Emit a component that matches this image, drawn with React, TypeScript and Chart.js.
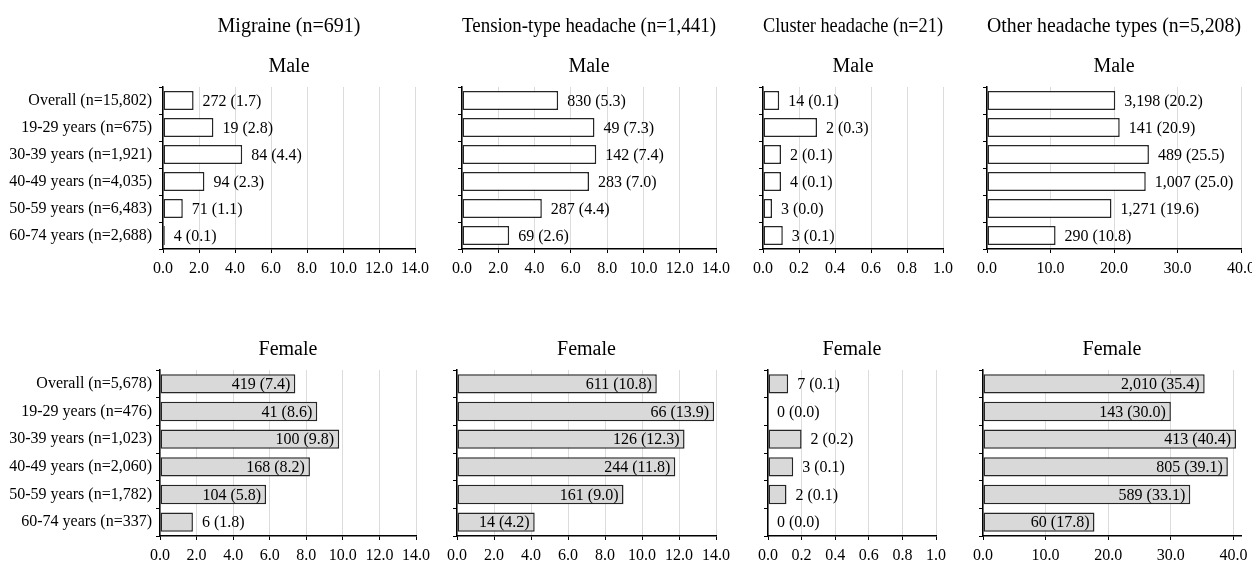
import React, { useEffect, useRef } from 'react';
import { Chart, registerables } from 'chart.js';

Chart.register(...registerables);

const FONT = "'Liberation Serif', 'Times New Roman', Times, serif";

// ---------- data ----------
const maleCategories = [
  'Overall (n=15,802)',
  '19-29 years (n=675)',
  '30-39 years (n=1,921)',
  '40-49 years (n=4,035)',
  '50-59 years (n=6,483)',
  '60-74 years (n=2,688)',
];
const femaleCategories = [
  'Overall (n=5,678)',
  '19-29 years (n=476)',
  '30-39 years (n=1,023)',
  '40-49 years (n=2,060)',
  '50-59 years (n=1,782)',
  '60-74 years (n=337)',
];

const headacheTitles = [
  'Migraine (n=691)',
  'Tension-type headache (n=1,441)',
  'Cluster headache (n=21)',
  'Other headache types (n=5,208)',
];

// Male
const migraineMaleCounts = [272, 19, 84, 94, 71, 4];
const migraineMalePct = [1.7, 2.8, 4.4, 2.3, 1.1, 0.1];
const tensionMaleCounts = [830, 49, 142, 283, 287, 69];
const tensionMalePct = [5.3, 7.3, 7.4, 7.0, 4.4, 2.6];
const clusterMaleCounts = [14, 2, 2, 4, 3, 3];
const clusterMalePct = [0.1, 0.3, 0.1, 0.1, 0.0, 0.1];
const clusterMaleBars = [0.09, 0.3, 0.1, 0.1, 0.05, 0.11];
const otherMaleCounts = [3198, 141, 489, 1007, 1271, 290];
const otherMalePct = [20.2, 20.9, 25.5, 25.0, 19.6, 10.8];

// Female
const migraineFemaleCounts = [419, 41, 100, 168, 104, 6];
const migraineFemalePct = [7.4, 8.6, 9.8, 8.2, 5.8, 1.8];
const tensionFemaleCounts = [611, 66, 126, 244, 161, 14];
const tensionFemalePct = [10.8, 13.9, 12.3, 11.8, 9.0, 4.2];
const clusterFemaleCounts = [7, 0, 2, 3, 2, 0];
const clusterFemalePct = [0.1, 0.0, 0.2, 0.1, 0.1, 0.0];
const clusterFemaleBars = [0.12, 0, 0.2, 0.15, 0.11, 0];
const otherFemaleCounts = [2010, 143, 413, 805, 589, 60];
const otherFemalePct = [35.4, 30.0, 40.4, 39.1, 33.1, 17.8];

// axis ranges
const axisMax = [14, 14, 1.0, 40];
const axisMaxFemale = [14, 14, 1.0, 41.2];
const axisStep = [2, 2, 0.2, 10];

// ---------- layout (styles) ----------
const topAxisX = [163, 462, 763, 987];
const topRight = [415, 716, 943, 1241];
const botAxisX = [160, 457, 768, 983];
const botRight = [416, 716, 936, 1241];
const PAD_R = 26;

function fmtCount(n: number): string {
  return String(n).replace(/\B(?=(\d{3})+(?!\d))/g, ',');
}
function makeLabels(counts: number[], pct: number[]): string[] {
  return counts.map((c, i) => `${fmtCount(c)} (${pct[i].toFixed(1)})`);
}

const barLabelPlugin = {
  id: 'barLabels',
  afterDatasetsDraw(chart: any, _args: any, opts: any) {
    const labels: string[] = opts.labels || [];
    const inside: boolean = !!opts.inside;
    const meta = chart.getDatasetMeta(0);
    const ctx = chart.ctx as CanvasRenderingContext2D;
    ctx.save();
    ctx.font = `16px ${FONT}`;
    ctx.fillStyle = '#000';
    ctx.textBaseline = 'middle';
    meta.data.forEach((bar: any, i: number) => {
      const text = labels[i];
      if (!text) return;
      const w = ctx.measureText(text).width;
      const len = bar.x - bar.base;
      if (inside && w + 10 < len) {
        ctx.textAlign = 'right';
        ctx.fillText(text, bar.x - 5, bar.y + 1);
      } else {
        ctx.textAlign = 'left';
        ctx.fillText(text, bar.x + 9, bar.y + 1);
      }
    });
    ctx.restore();
  },
};

type PanelSpec = {
  key: string;
  categories: string[];
  values: number[];
  labels: string[];
  inside: boolean;
  fill: string;
  max: number;
  step: number;
  showY: boolean;
  title?: string;
  subtitle?: string;
  top: number;
  height: number;
  axisX: number;
  right: number;
  xH: number;
  titlePad: { top: number; bottom: number };
  subPad?: { top: number; bottom: number };
};

function Panel({ spec }: { spec: PanelSpec }) {
  const ref = useRef<HTMLCanvasElement>(null);
  const yW = spec.showY ? spec.axisX : 16;
  const left = spec.axisX - yW;
  const width = spec.right + PAD_R - left;

  useEffect(() => {
    if (!ref.current) return;
    const titleFont = { family: FONT, size: 20, weight: 'normal' as const };
    const tickFont = { family: FONT, size: 16 };
    const step = spec.step;
    const chart = new Chart(ref.current, {
      type: 'bar',
      data: {
        labels: spec.categories,
        datasets: [
          {
            data: spec.values,
            backgroundColor: spec.fill,
            borderColor: '#262626',
            borderWidth: 1.5,
            borderSkipped: false,
            barPercentage: 0.7,
            categoryPercentage: 1,
            clip: false as any,
          } as any,
        ],
      },
      options: {
        indexAxis: 'y',
        responsive: false,
        maintainAspectRatio: false,
        animation: false,
        devicePixelRatio: 1,
        events: [],
        layout: { padding: { left: 0, right: PAD_R, top: 0, bottom: 0 } },
        plugins: {
          legend: { display: false },
          tooltip: { enabled: false },
          title: {
            display: !!spec.title,
            text: spec.title || '',
            font: titleFont,
            color: '#000',
            padding: spec.titlePad,
            fullSize: false,
          },
          subtitle: {
            display: !!spec.subtitle,
            text: spec.subtitle || '',
            font: titleFont,
            color: '#000',
            padding: spec.subPad || { top: 0, bottom: 0 },
            fullSize: false,
          },
          barLabels: { labels: spec.labels, inside: spec.inside },
        } as any,
        scales: {
          x: {
            type: 'linear',
            min: 0,
            max: spec.max,
            ticks: {
              stepSize: step,
              includeBounds: false,
              autoSkip: false,
              maxRotation: 0,
              font: tickFont,
              color: '#000',
              padding: 6,
              callback: (v: any) => Number(v).toFixed(1),
            },
            grid: { color: '#dcdcdc', tickColor: '#000', tickLength: 4, lineWidth: 1 },
            border: { color: '#000', width: 1.5 },
            afterBuildTicks: (s: any) => {
              s.ticks = s.ticks.filter((t: any) => {
                const r = t.value / step;
                return Math.abs(r - Math.round(r)) < 1e-6;
              });
            },
            afterFit: (s: any) => {
              s.height = spec.xH;
            },
          },
          y: {
            type: 'category',
            ticks: {
              display: spec.showY,
              autoSkip: false,
              font: tickFont,
              color: '#000',
              padding: spec.top === 0 ? 7 : 4,
            },
            grid: {
              offset: true,
              drawOnChartArea: false,
              color: '#000',
              tickColor: '#000',
              tickLength: 4,
              lineWidth: 1,
            },
            border: { color: '#000', width: 1.5 },
            afterFit: (s: any) => {
              s.width = yW;
            },
          },
        },
      } as any,
      plugins: [barLabelPlugin],
    });
    return () => chart.destroy();
  }, []);

  return (
    <canvas
      ref={ref}
      width={width}
      height={spec.height}
      style={{ position: 'absolute', left, top: spec.top, width, height: spec.height }}
    />
  );
}

const maleValues = [migraineMalePct, tensionMalePct, clusterMaleBars, otherMalePct];
const maleLabels = [
  makeLabels(migraineMaleCounts, migraineMalePct),
  makeLabels(tensionMaleCounts, tensionMalePct),
  makeLabels(clusterMaleCounts, clusterMalePct),
  makeLabels(otherMaleCounts, otherMalePct),
];
const femaleValues = [migraineFemalePct, tensionFemalePct, clusterFemaleBars, otherFemalePct];
const femaleLabels = [
  makeLabels(migraineFemaleCounts, migraineFemalePct),
  makeLabels(tensionFemaleCounts, tensionFemalePct),
  makeLabels(clusterFemaleCounts, clusterFemalePct),
  makeLabels(otherFemaleCounts, otherFemalePct),
];

const panels: PanelSpec[] = [];
for (let c = 0; c < 4; c++) {
  panels.push({
    key: `m${c}`,
    categories: maleCategories,
    values: maleValues[c],
    labels: maleLabels[c],
    inside: false,
    fill: '#ffffff',
    max: axisMax[c],
    step: axisStep[c],
    showY: c === 0,
    title: headacheTitles[c],
    subtitle: 'Male',
    top: 0,
    height: 290,
    axisX: topAxisX[c],
    right: topRight[c],
    xH: 41,
    titlePad: { top: 15, bottom: 6 },
    subPad: { top: 10, bottom: 8 },
  });
}
for (let c = 0; c < 4; c++) {
  panels.push({
    key: `f${c}`,
    categories: femaleCategories,
    values: femaleValues[c],
    labels: femaleLabels[c],
    inside: true,
    fill: '#d9d9d9',
    max: axisMaxFemale[c],
    step: axisStep[c],
    showY: c === 0,
    title: 'Female',
    top: 290,
    height: 280,
    axisX: botAxisX[c],
    right: botRight[c],
    xH: 34,
    titlePad: { top: 48, bottom: 8 },
  });
}

export default function App() {
  return (
    <div
      style={{
        position: 'absolute',
        left: 0,
        top: 0,
        width: 1252,
        height: 561,
        overflow: 'hidden',
        background: '#fff',
      }}
    >
      {panels.map((p) => (
        <Panel key={p.key} spec={p} />
      ))}
    </div>
  );
}
